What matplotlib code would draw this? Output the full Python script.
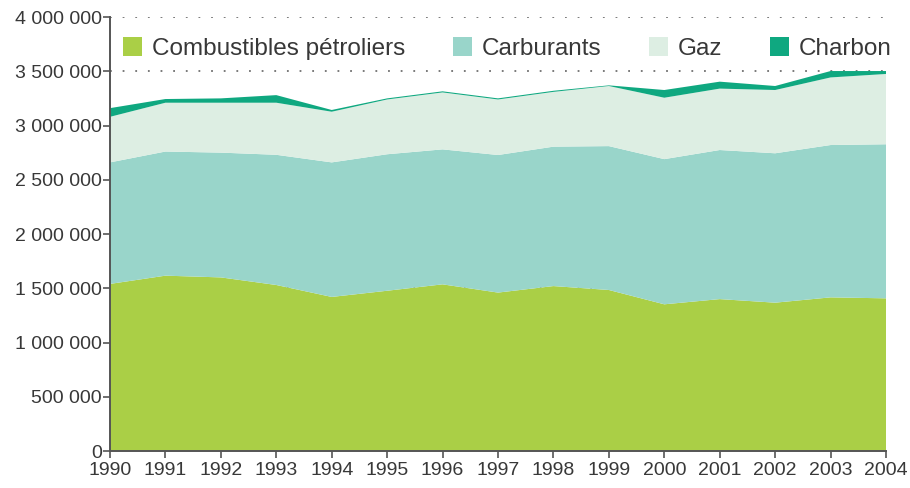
import matplotlib
matplotlib.use("Agg")
import matplotlib.pyplot as plt
from matplotlib.patches import Patch
from matplotlib.ticker import FuncFormatter

years = list(range(1990, 2005))
series_names = ["Combustibles pétroliers", "Carburants", "Gaz", "Charbon"]
petroliers = [1540000, 1616000, 1600000, 1530000, 1420000, 1477000, 1536000, 1460000,
              1520000, 1484000, 1352000, 1400000, 1367000, 1416000, 1407000]
carburants = [1120000, 1144000, 1150000, 1200000, 1240000, 1258000, 1244000, 1268000,
              1285000, 1326000, 1338000, 1374000, 1377000, 1404000, 1420000]
gaz = [420000, 450000, 460000, 480000, 467000, 505000, 525000, 512000,
       505000, 554000, 566000, 566000, 583000, 623000, 648000]
charbon = [80000, 34000, 40000, 70000, 16000, 10000, 10000, 10000,
           10000, 6000, 71000, 64000, 37000, 59000, 27000]
colors = ["#aacf46", "#99d5ca", "#ddeee3", "#0fa880"]
yticks = [0, 500000, 1000000, 1500000, 2000000, 2500000, 3000000, 3500000, 4000000]

plt.rcParams['font.family'] = ['Liberation Sans', 'DejaVu Sans']
text_color = "#383838"

fig = plt.figure(figsize=(9.10, 4.88), dpi=100)
ax = fig.add_axes([110/910, 1-451/488, (886-110)/910, (451-17)/488])

ax.stackplot(years, petroliers, carburants, gaz, charbon, colors=colors,
             linewidth=0, zorder=2)

ax.set_xlim(1990, 2004)
ax.set_ylim(0, 4000000)
ax.set_yticks(yticks)
ax.set_xticks(years)
ax.yaxis.set_major_formatter(FuncFormatter(lambda v, p: f"{int(v):,}".replace(",", " ")))

for y in yticks[1:]:
    ax.axhline(y, color="#707070", linestyle=(0, (1, 6)), linewidth=1.3, zorder=1)

for s in ["top", "right"]:
    ax.spines[s].set_visible(False)
for s in ["left", "bottom"]:
    ax.spines[s].set_color("#555555")
    ax.spines[s].set_linewidth(1.4)
    ax.spines[s].set_zorder(3)

ax.tick_params(axis="both", colors="#555555", labelcolor=text_color, labelsize=14,
               length=5, width=1.2, direction="out")
ax.tick_params(axis="x", pad=3)
ax.tick_params(axis="y", pad=1)

handles = [Patch(facecolor=c, edgecolor="none") for c in colors]
leg = ax.legend(handles, series_names, ncol=4, loc="upper left",
                bbox_to_anchor=(-0.004, 0.99), frameon=True, facecolor="white",
                edgecolor="none", framealpha=1, fontsize=17.5, handlelength=0.8,
                handleheight=0.8, handletextpad=0.4, columnspacing=1.95,
                borderpad=0.35, borderaxespad=0.3, labelcolor=text_color)
leg.set_zorder(5)

fig.savefig("out.png", dpi=100)
